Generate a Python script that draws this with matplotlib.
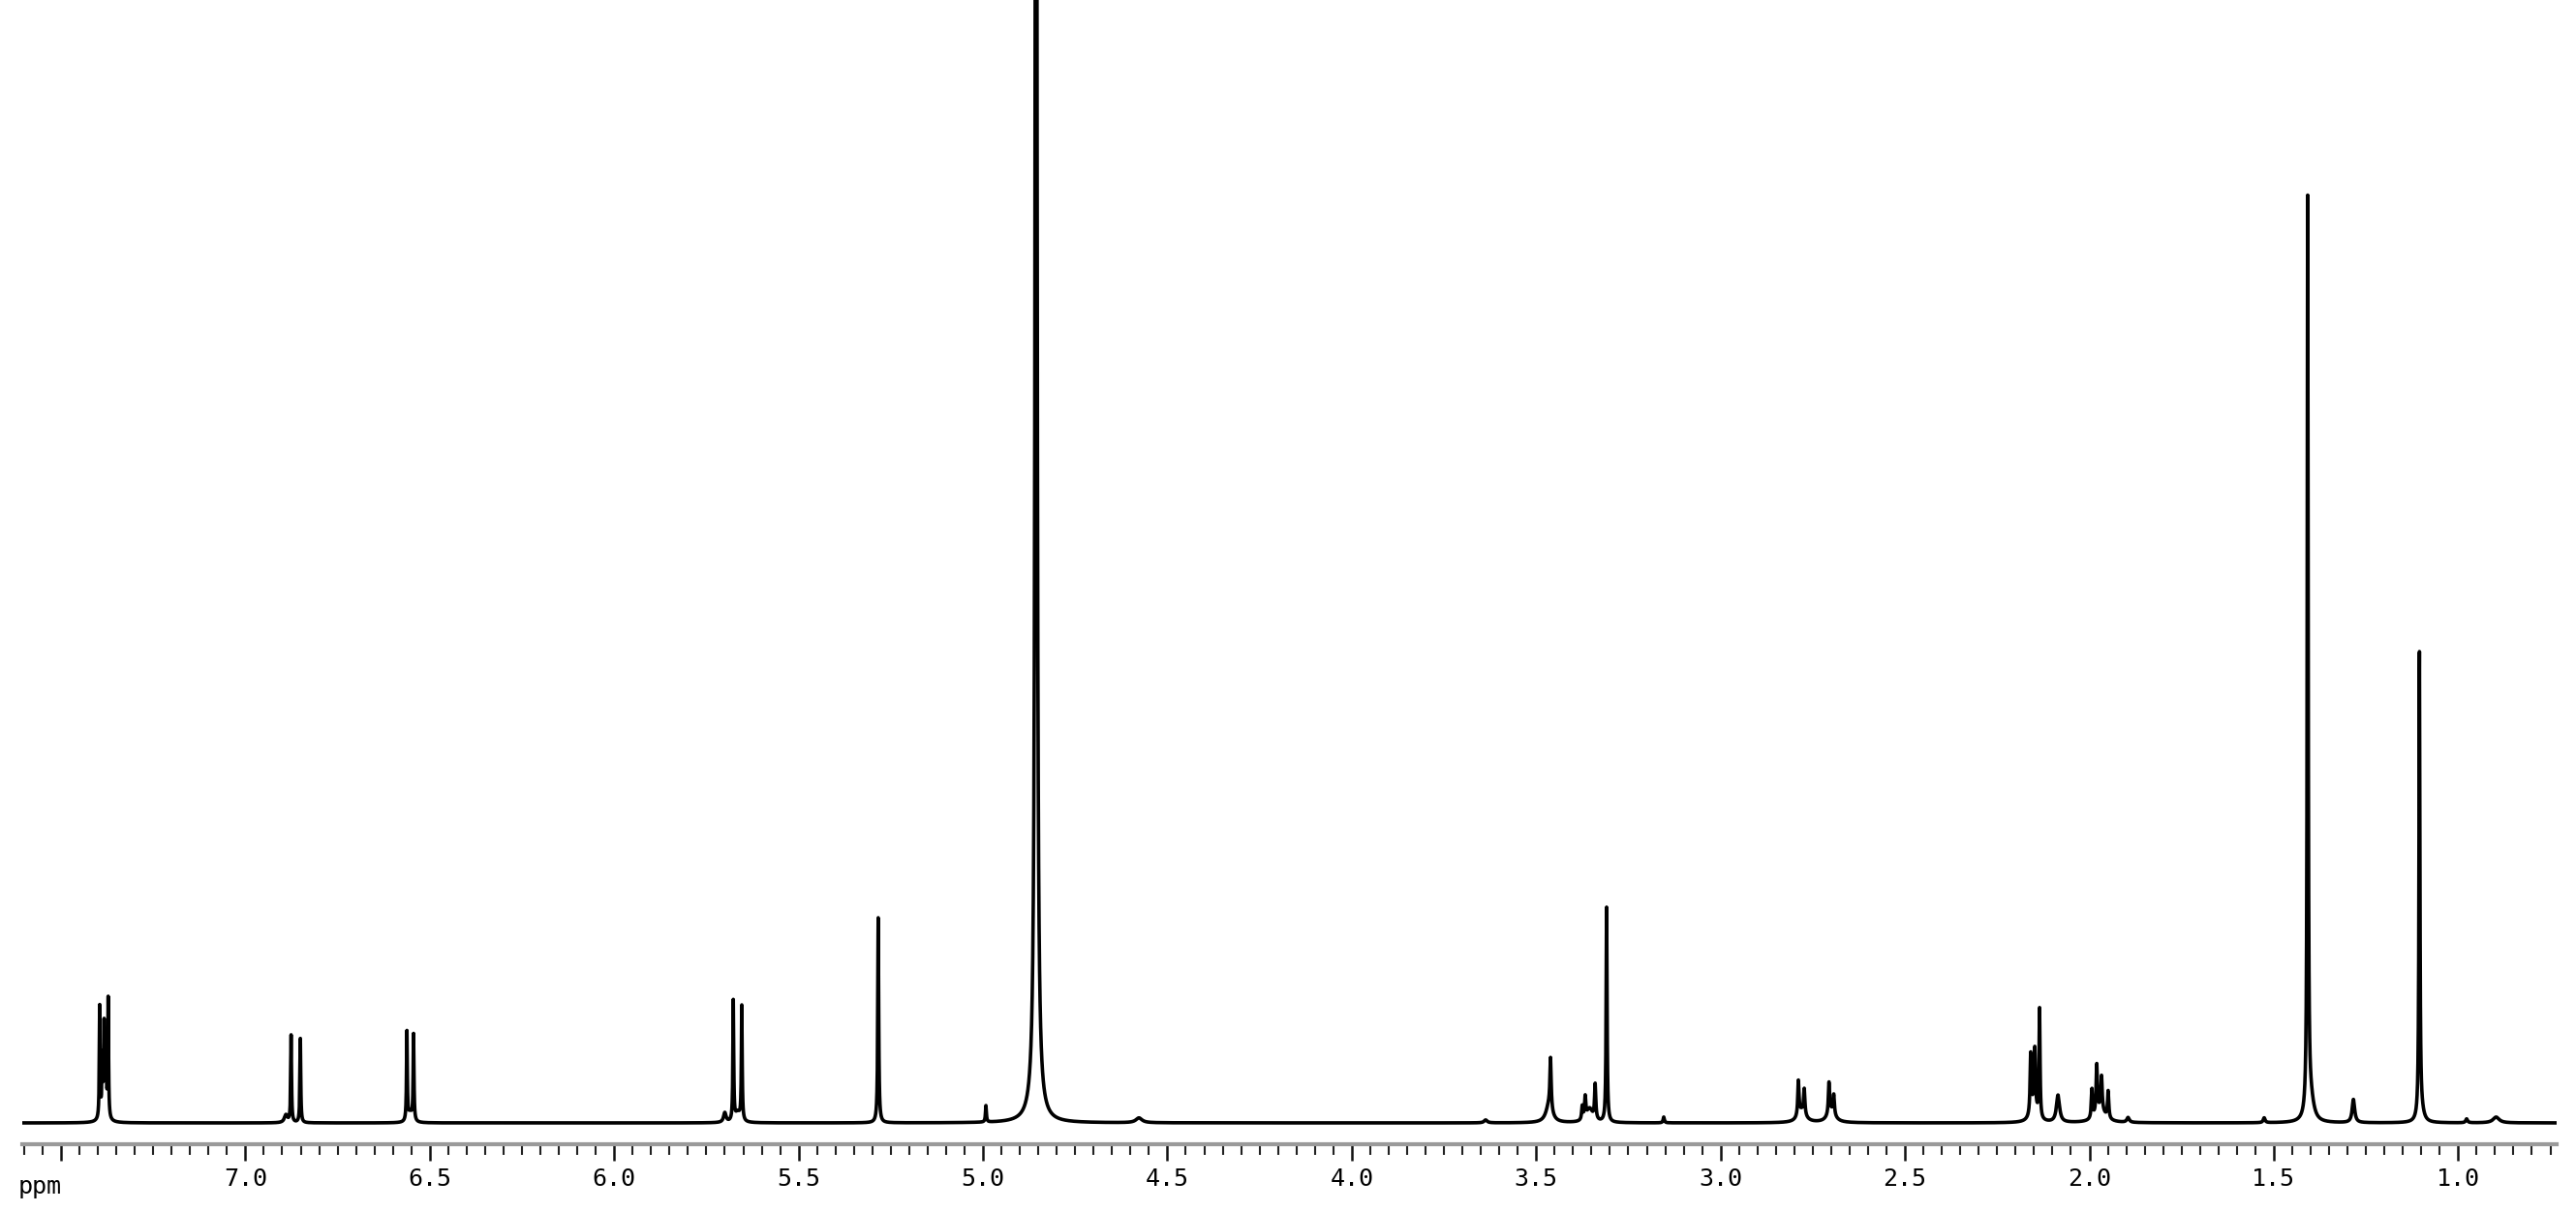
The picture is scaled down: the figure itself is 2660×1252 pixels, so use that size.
import numpy as np
import matplotlib.pyplot as plt
from matplotlib.ticker import MultipleLocator

# peak list: shift (ppm), height (rel.), half width (ppm)
shifts = [7.395, 7.388, 7.383, 7.378, 7.372, 7.383,
          6.890, 6.876, 6.851,
          6.562, 6.544, 6.553,
          5.700, 5.677, 5.654, 5.665,
          5.284, 4.992, 4.856, 4.856, 4.577, 3.637,
          3.461, 3.465,
          3.375, 3.367, 3.340, 3.355,
          3.309, 3.154,
          2.789, 2.773, 2.780, 2.706, 2.693, 2.700,
          2.159, 2.148, 2.135, 2.150,
          2.085,
          1.993, 1.980, 1.967, 1.949, 1.970,
          1.895, 1.526,
          1.408, 1.400,
          1.284, 1.105, 1.100, 0.977, 0.897]
heights = [115, 55, 85, 65, 122, 14,
           8, 90, 87,
           92, 89, 10,
           10, 124, 118, 10,
           212, 17, 2600, 40, 5, 3,
           52, 18,
           14, 22, 36, 14,
           222, 6,
           36, 26, 12, 32, 20, 12,
           62, 60, 112, 16,
           28,
           30, 50, 34, 28, 14,
           5, 5,
           945, 22,
           24, 480, 10, 4, 6]
widths = [0.0012, 0.0012, 0.0012, 0.0012, 0.0012, 0.008,
          0.005, 0.0013, 0.0013,
          0.0013, 0.0013, 0.006,
          0.004, 0.0013, 0.0013, 0.008,
          0.0015, 0.0015, 0.0022, 0.012, 0.01, 0.005,
          0.002, 0.01,
          0.002, 0.002, 0.002, 0.01,
          0.0015, 0.002,
          0.002, 0.002, 0.012, 0.002, 0.002, 0.012,
          0.002, 0.002, 0.0015, 0.01,
          0.005,
          0.002, 0.002, 0.002, 0.002, 0.015,
          0.004, 0.003,
          0.0015, 0.01,
          0.004, 0.0015, 0.008, 0.003, 0.01]

major_ticks = [7.5, 7.0, 6.5, 6.0, 5.5, 5.0, 4.5, 4.0, 3.5, 3.0, 2.5, 2.0, 1.5, 1.0]
major_labels = ["", "7.0", "6.5", "6.0", "5.5", "5.0", "4.5", "4.0",
                "3.5", "3.0", "2.5", "2.0", "1.5", "1.0"]

ppm = np.linspace(0.733, 7.605, 80000)
spec = np.zeros_like(ppm)
for c, h, w in zip(shifts, heights, widths):
    spec += h * w**2 / ((ppm - c)**2 + w**2)

fig = plt.figure(figsize=(26.6, 12.52), dpi=100)
ax = fig.add_axes([23 / 2660, 70 / 1252, 2617 / 2660, 1182 / 1252])
ax.plot(ppm, spec, color="black", lw=2.6)
ax.set_xlim(7.605, 0.733)
ax.set_ylim(-22, 1160)

for s in ["top", "left", "right"]:
    ax.spines[s].set_visible(False)
ax.spines["bottom"].set_color("#9a9a9a")
ax.spines["bottom"].set_linewidth(3)
ax.set_yticks([])
ax.set_xticks(major_ticks)
ax.set_xticklabels(major_labels, family="DejaVu Sans Mono", fontsize=18)
ax.xaxis.set_minor_locator(MultipleLocator(0.05))
ax.tick_params(axis="x", which="major", direction="out", length=12, width=1.8, pad=5, color="#111111")
ax.tick_params(axis="x", which="minor", direction="out", length=8, width=1.5, color="#222222")
ax.text(0.007, -0.027, "ppm", transform=ax.transAxes, family="DejaVu Sans Mono",
        fontsize=18, ha="center", va="top")

fig.savefig("out.png", dpi=100)
